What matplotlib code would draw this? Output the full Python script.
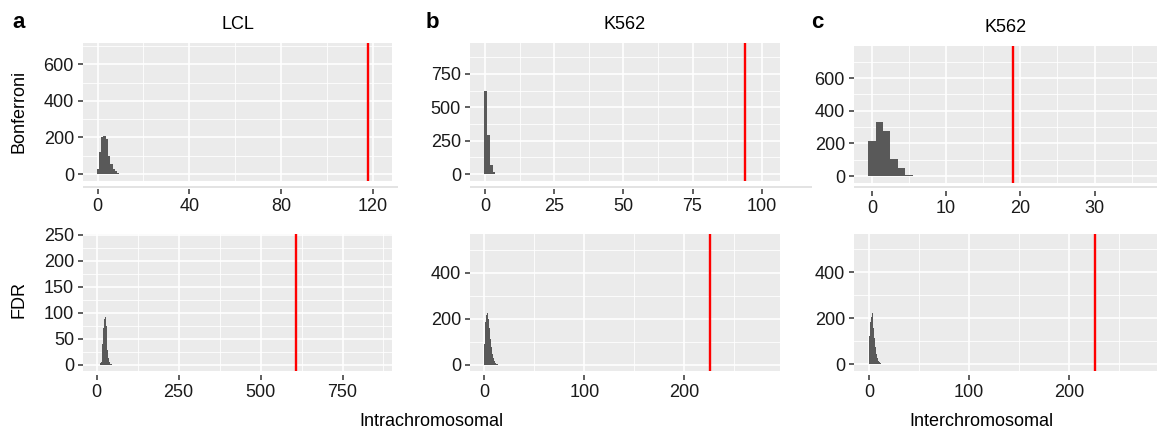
import matplotlib
matplotlib.use("Agg")
import matplotlib.pyplot as plt
from matplotlib.patches import Rectangle
import numpy as np

plt.rcParams['font.family'] = ['Liberation Sans', 'DejaVu Sans']

# histogram bins (left edge, width) and counts for each panel
a_top_start, a_top_width = -0.5, 1.0
a_top_counts = [25, 120, 200, 210, 190, 100, 55, 30, 15, 6, 2]
b_top_start, b_top_width = -0.25, 1.0
b_top_counts = [620, 295, 70, 12, 4]
c_top_start, c_top_width = -0.5, 1.0
c_top_counts = [215, 331, 276, 104, 49, 8, 3]

a_bot_start, a_bot_width = 10.0, 2.5
a_bot_counts = [3, 5, 15, 40, 70, 88, 92, 75, 50, 28, 12, 5, 2, 1]
b_bot_start, b_bot_width = 0.0, 1.0
b_bot_counts = [90, 185, 215, 223, 200, 160, 110, 75, 45, 28, 15, 8, 4, 2]
c_bot_start, c_bot_width = 0.0, 1.0
c_bot_counts = [125, 182, 205, 225, 160, 115, 75, 45, 28, 15, 8, 4, 2, 1]

# observed values (red lines)
observed = {'a_top': 118, 'b_top': 94, 'c_top': 19.05,
            'a_bot': 608, 'b_bot': 226, 'c_bot': 225.5}

titles = ['LCL', 'K562', 'K562']
letters = ['a', 'b', 'c']
row_labels = ['Bonferroni', 'FDR']

W, H = 1157, 432
fig = plt.figure(figsize=(W / 100, H / 100), dpi=100)


def px_axes(x0, y0, x1, y1):
    return fig.add_axes([x0 / W, 1 - y1 / H, (x1 - x0) / W, (y1 - y0) / H])


def style(ax, xlim, ylim, xmaj, xmin, ymaj, ymin, offset):
    ax.set_facecolor('#ebebeb')
    for s in ax.spines.values():
        s.set_visible(False)
    ax.spines['bottom'].set_position(('outward', offset))
    ax.set_xlim(*xlim)
    ax.set_ylim(*ylim)
    ax.set_xticks(xmaj)
    ax.set_xticks(xmin, minor=True)
    ax.set_yticks(ymaj)
    ax.set_yticks(ymin, minor=True)
    ax.grid(True, which='major', color='white', lw=1.2)
    ax.grid(True, which='minor', color='white', lw=0.6)
    ax.set_axisbelow(True)
    ax.tick_params(which='major', length=3.5, width=1.1, color='#333333',
                   labelsize=13, labelcolor='#1a1a1a', pad=3)
    ax.tick_params(which='minor', length=0)


def hist(ax, start, width, counts, obs):
    edges = start + width * np.arange(len(counts))
    ax.bar(edges, counts, width=width, align='edge', color='#595959', lw=0)
    ax.axvline(obs, color='red', lw=1.7)


# top row
ax = px_axes(83, 43, 392, 181)
style(ax, (-6.4, 128.5), (-38, 716), [0, 40, 80, 120], [20, 60, 100],
      [0, 200, 400, 600], [100, 300, 500, 700], 6)
hist(ax, a_top_start, a_top_width, a_top_counts, observed['a_top'])
ax.set_title(titles[0], fontsize=13, pad=10)

ax = px_axes(470, 43, 780, 181)
style(ax, (-5.4, 106.6), (-52, 982), [0, 25, 50, 75, 100], [12.5, 37.5, 62.5, 87.5],
      [0, 250, 500, 750], [125, 375, 625, 875], 6)
hist(ax, b_top_start, b_top_width, b_top_counts, observed['b_top'])
ax.set_title(titles[1], fontsize=13, pad=10)

ax = px_axes(854, 46, 1157, 182.7)
style(ax, (-2.4, 38.4), (-41, 797), [0, 10, 20, 30], [5, 15, 25, 35],
      [0, 200, 400, 600], [100, 300, 500, 700], 6)
hist(ax, c_top_start, c_top_width, c_top_counts, observed['c_top'])
ax.set_title(titles[2], fontsize=13, pad=10)

# bottom row
ax = px_axes(83, 234, 392, 370.7)
style(ax, (-42, 901), (-11.6, 251), [0, 250, 500, 750], [125, 375, 625, 875],
      [0, 50, 100, 150, 200, 250], [25, 75, 125, 175, 225], 3)
hist(ax, a_bot_start, a_bot_width, a_bot_counts, observed['a_bot'])

ax = px_axes(470, 234, 780, 370.7)
style(ax, (-14.3, 295.7), (-26, 568), [0, 100, 200], [50, 150, 250],
      [0, 200, 400], [100, 300, 500], 3)
hist(ax, b_bot_start, b_bot_width, b_bot_counts, observed['b_bot'])

ax = px_axes(854, 234, 1157, 370.7)
style(ax, (-15, 288), (-27.8, 566.5), [0, 100, 200], [50, 150, 250],
      [0, 200, 400], [100, 300, 500], 3)
hist(ax, c_bot_start, c_bot_width, c_bot_counts, observed['c_bot'])

# thin strips below the top panels
for x0, x1 in [(83, 398), (470, 812), (854, 1157)]:
    fig.add_artist(Rectangle((x0 / W, 1 - 188 / H), (x1 - x0) / W, 1.5 / H,
                             transform=fig.transFigure, color='#e3e3e3', lw=0))

# panel letters
for lx, letter in zip([12, 426, 811], letters):
    fig.text(lx / W, 1 - 28 / H, letter, fontsize=16, fontweight='bold',
             va='baseline', ha='left')

# row labels
fig.text(19 / W, 1 - 111 / H, row_labels[0], rotation=90, fontsize=13,
         va='center', ha='center')
fig.text(19 / W, 1 - 300 / H, row_labels[1], rotation=90, fontsize=13,
         va='center', ha='center')

fig.text(431 / W, 1 - 421 / H, 'Intrachromosomal', fontsize=13,
         va='center', ha='center')
fig.text(981 / W, 1 - 421 / H, 'Interchromosomal', fontsize=13,
         va='center', ha='center')

fig.savefig('out.png', dpi=100)
